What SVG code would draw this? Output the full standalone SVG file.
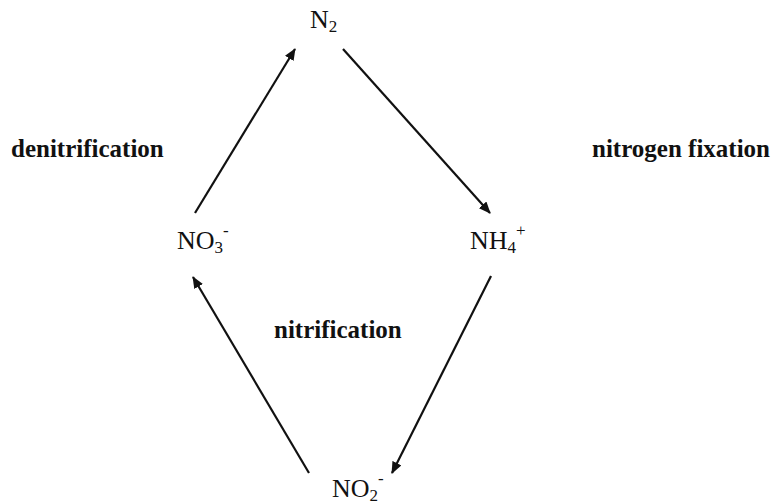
<svg xmlns="http://www.w3.org/2000/svg" width="777" height="504" viewBox="0 0 777 504">
<style>
.chem{font-family:"Liberation Serif","Times New Roman",serif;font-size:26px;fill:#111}
.sub{font-size:17px}
.lbl{font-family:"Liberation Serif","Times New Roman",serif;font-size:25px;font-weight:bold;fill:#111}
.arr{stroke:#111;stroke-width:2.2;fill:none;marker-end:url(#ah)}
</style>
<defs>
<marker id="ah" viewBox="0 0 12 10" refX="11" refY="5" markerWidth="12" markerHeight="10" markerUnits="userSpaceOnUse" orient="auto">
<path d="M0,0 L12,5 L0,10 z" fill="#111"/>
</marker>
</defs>
<rect width="777" height="504" fill="#fff"/>
<g id="connectors">
<line class="arr" x1="195" y1="213" x2="295" y2="49"/>
<line class="arr" x1="343" y1="49" x2="490" y2="213"/>
<line class="arr" x1="491" y1="276" x2="392" y2="473"/>
<line class="arr" x1="309" y1="473" x2="193" y2="277"/>
</g>
<g id="n2"><text class="chem" x="310" y="28">N<tspan class="sub" dy="4">2</tspan></text></g>
<g id="no3"><text class="chem" x="177" y="249">NO<tspan class="sub" dy="4">3</tspan><tspan class="sub" dy="-17">-</tspan></text></g>
<g id="nh4"><text class="chem" x="470" y="249">NH<tspan class="sub" dy="4">4</tspan><tspan class="sub" dy="-17">+</tspan></text></g>
<g id="no2"><text class="chem" x="332" y="497">NO<tspan class="sub" dy="4">2</tspan><tspan class="sub" dy="-17">-</tspan></text></g>
<g id="denitrification"><text class="lbl" x="11" y="157">denitrification</text></g>
<g id="fixation"><text class="lbl" x="592" y="157">nitrogen fixation</text></g>
<g id="nitrification"><text class="lbl" x="274" y="338">nitrification</text></g>
</svg>
